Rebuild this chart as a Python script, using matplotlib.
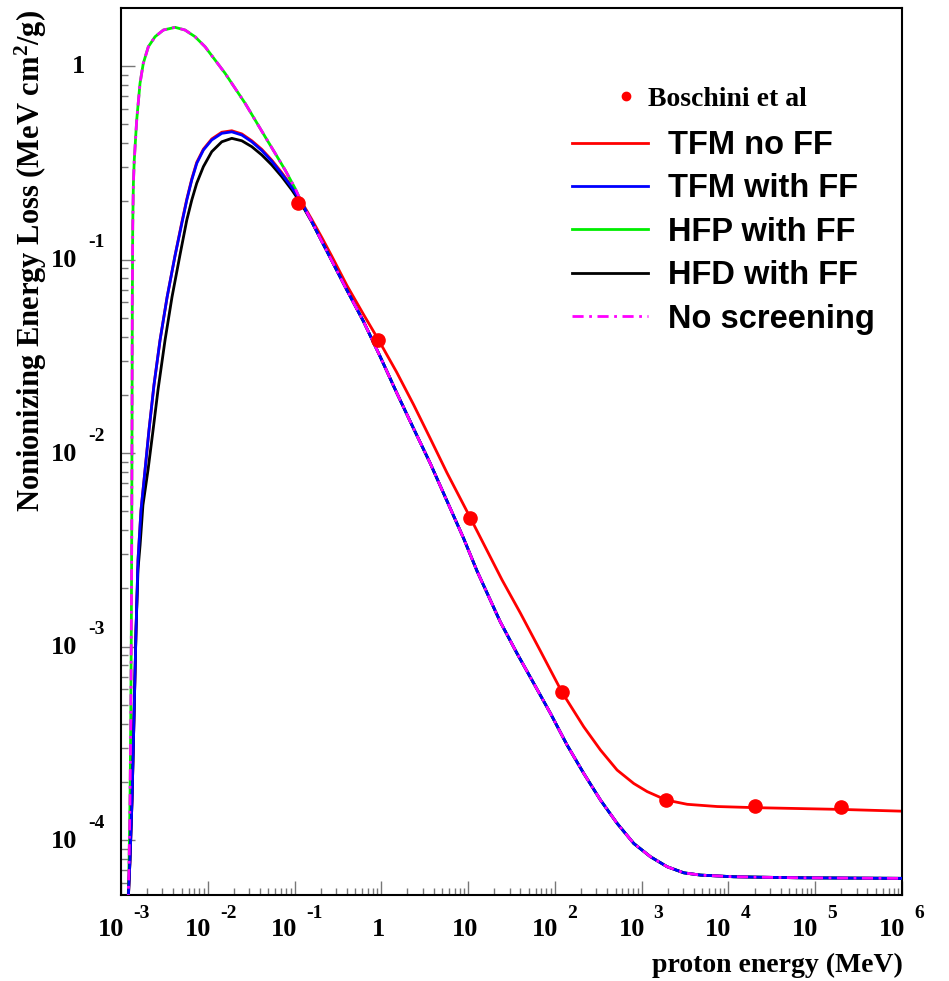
import matplotlib
matplotlib.use("Agg")
import numpy as np
import matplotlib.pyplot as plt
from matplotlib.lines import Line2D
from matplotlib.ticker import LogLocator, NullFormatter
from matplotlib.font_manager import FontProperties

# Boschini et al reference points
bos_E = [0.11, 0.92, 10.5, 122, 1930, 2.05e4, 2.0e5]
bos_loss = [0.196, 0.0384, 4.6e-3, 5.8e-4, 1.61e-4, 1.50e-4, 1.49e-4]

# TFM no FF (red)
tfm_E = [1.205e-3, 1.27e-3, 1.34e-3, 1.41e-3, 1.49e-3, 1.57e-3, 1.70e-3, 1.84e-3,
         2.10e-3, 2.40e-3, 2.82e-3, 3.40e-3, 4.20e-3, 5.01e-3, 5.73e-3, 6.54e-3,
         7.46e-3, 8.90e-3, 0.01111, 0.0145, 0.01891, 0.02466, 0.03216, 0.04195,
         0.0547, 0.0713, 0.093, 0.1213, 0.1582, 0.2063, 0.269, 0.401, 0.624, 0.929,
         1.50, 2.35, 3.66, 5.71, 10.6, 24.6, 40, 68, 121, 215, 335, 521, 811, 1157,
         1917, 3350, 7430, 2.07e4, 1.96e5, 1e6]
tfm_loss = [4.6e-5, 7.9e-5, 1.61e-4, 4.17e-4, 1.22e-3, 2.8e-3, 5.07e-3, 7.2e-3,
            0.0131, 0.0225, 0.0384, 0.064, 0.105, 0.155, 0.205, 0.261,
            0.318, 0.372, 0.420, 0.455, 0.463, 0.446, 0.411, 0.371,
            0.326, 0.281, 0.239, 0.198, 0.161, 0.130, 0.104, 0.0735, 0.0520, 0.0384,
            0.0262, 0.0178, 0.0119, 7.9e-3, 4.63e-3, 2.21e-3, 1.49e-3, 9.5e-4, 5.8e-4,
            3.85e-4, 2.92e-4, 2.30e-4, 1.96e-4, 1.78e-4,
            1.61e-4, 1.53e-4, 1.49e-4, 1.47e-4, 1.44e-4, 1.41e-4]

# TFM with FF (blue)
tfmff_E = [1.205e-3, 1.27e-3, 1.34e-3, 1.41e-3, 1.49e-3, 1.57e-3, 1.70e-3, 1.84e-3,
           2.10e-3, 2.40e-3, 2.82e-3, 3.40e-3, 4.20e-3, 5.01e-3, 5.73e-3, 6.54e-3,
           7.46e-3, 8.90e-3, 0.01111, 0.0145, 0.01891, 0.02466, 0.03216, 0.04195,
           0.0547, 0.0713, 0.093, 0.1213, 0.1582, 0.2063, 0.269, 0.401, 0.624, 0.970,
           1.51, 2.35, 3.66, 5.71, 8.88, 12.7, 23.5, 36.6, 57.0, 88.8, 138, 215, 335,
           521, 811, 1262, 1966, 3060, 4765, 1.15e4, 6.78e4, 1e6]
tfmff_loss = [4.6e-5, 7.9e-5, 1.61e-4, 4.17e-4, 1.22e-3, 2.8e-3, 5.07e-3, 7.2e-3,
              0.0131, 0.0225, 0.0384, 0.064, 0.105, 0.153, 0.203, 0.258,
              0.314, 0.368, 0.415, 0.449, 0.457, 0.440, 0.406, 0.366,
              0.322, 0.277, 0.236, 0.196, 0.157, 0.124, 0.0985, 0.0695, 0.0478, 0.0315,
              0.0204, 0.0134, 8.85e-3, 5.65e-3, 3.62e-3, 2.45e-3, 1.34e-3, 9.22e-4,
              6.46e-4, 4.52e-4, 3.10e-4, 2.21e-4, 1.61e-4,
              1.22e-4, 9.6e-5, 8.2e-5, 7.28e-5, 6.77e-5, 6.59e-5, 6.46e-5, 6.38e-5, 6.34e-5]

# HFP with FF (green)
hfp_E = [1.205e-3, 1.24e-3, 1.27e-3, 1.295e-3, 1.315e-3, 1.33e-3, 1.34e-3, 1.35e-3,
         1.365e-3, 1.39e-3, 1.422e-3, 1.517e-3, 1.656e-3, 1.807e-3, 2.065e-3, 2.466e-3,
         3.077e-3, 4.20e-3, 5.47e-3, 7.14e-3, 9.31e-3, 0.01214, 0.01584, 0.02066,
         0.02694, 0.03513, 0.04582, 0.05976, 0.07793, 0.1016, 0.1213, 0.1582, 0.2063,
         0.269, 0.401, 0.624, 0.970, 1.51, 2.35, 3.66, 5.71, 8.88, 12.7, 23.5, 36.6,
         57.0, 88.8, 138, 215, 335, 521, 811, 1262, 1966, 3060, 4765, 1.15e4, 6.78e4, 1e6]
hfp_loss = [4.6e-5, 8e-5, 1.6e-4, 4e-4, 1.2e-3, 4e-3, 0.015, 0.06,
            0.15, 0.25, 0.327, 0.526, 0.814, 1.033, 1.258, 1.417,
            1.535, 1.585, 1.535, 1.417, 1.258, 1.074, 0.917, 0.767,
            0.642, 0.526, 0.431, 0.354, 0.290, 0.233, 0.196, 0.157, 0.124,
            0.0985, 0.0695, 0.0478, 0.0315, 0.0204, 0.0134, 8.85e-3, 5.65e-3, 3.62e-3,
            2.45e-3, 1.34e-3, 9.22e-4,
            6.46e-4, 4.52e-4, 3.10e-4, 2.21e-4, 1.61e-4, 1.22e-4, 9.6e-5, 8.2e-5, 7.28e-5,
            6.77e-5, 6.59e-5, 6.46e-5, 6.38e-5, 6.34e-5]

# HFD with FF (black)
hfd_E = [1.205e-3, 1.27e-3, 1.34e-3, 1.41e-3, 1.49e-3, 1.57e-3, 1.66e-3, 1.79e-3,
         2.05e-3, 2.34e-3, 2.67e-3, 3.22e-3, 3.87e-3, 4.79e-3, 5.73e-3, 6.54e-3,
         7.46e-3, 8.90e-3, 0.01111, 0.0145, 0.01891, 0.02466, 0.03216, 0.04195,
         0.0547, 0.0713, 0.093, 0.1213, 0.1582, 0.2063, 0.269, 0.401, 0.624, 0.970,
         1.51, 2.35, 3.66, 5.71, 8.88, 12.7, 23.5, 36.6, 57.0, 88.8, 138, 215, 335,
         521, 811, 1262, 1966, 3060, 4765, 1.15e4, 6.78e4, 1e6]
hfd_loss = [4.6e-5, 7.9e-5, 1.61e-4, 4.17e-4, 1.22e-3, 2.5e-3, 3.35e-3, 5.38e-3,
            8.2e-3, 0.0131, 0.0212, 0.0384, 0.064, 0.106, 0.160, 0.203,
            0.248, 0.302, 0.361, 0.406, 0.423, 0.411, 0.383, 0.347,
            0.308, 0.268, 0.229, 0.192, 0.156, 0.124, 0.0985, 0.0695, 0.0478, 0.0315,
            0.0204, 0.0134, 8.85e-3, 5.65e-3, 3.62e-3, 2.45e-3, 1.34e-3, 9.22e-4,
            6.46e-4, 4.52e-4, 3.10e-4, 2.21e-4, 1.61e-4,
            1.22e-4, 9.6e-5, 8.2e-5, 7.28e-5, 6.77e-5, 6.59e-5, 6.46e-5, 6.38e-5, 6.34e-5]

# No screening (magenta, dash-dot)
nos_E = [1.205e-3, 1.24e-3, 1.27e-3, 1.295e-3, 1.315e-3, 1.33e-3, 1.34e-3, 1.35e-3,
         1.365e-3, 1.39e-3, 1.422e-3, 1.517e-3, 1.656e-3, 1.807e-3, 2.065e-3, 2.466e-3,
         3.077e-3, 4.20e-3, 5.47e-3, 7.14e-3, 9.31e-3, 0.01214, 0.01584, 0.02066,
         0.02694, 0.03513, 0.04582, 0.05976, 0.07793, 0.1016, 0.1213, 0.1582, 0.2063,
         0.269, 0.401, 0.624, 0.970, 1.51, 2.35, 3.66, 5.71, 8.88, 12.7, 23.5, 36.6,
         57.0, 88.8, 138, 215, 335, 521, 811, 1262, 1966, 3060, 4765, 1.15e4, 6.78e4, 1e6]
nos_loss = [4.6e-5, 8e-5, 1.6e-4, 4e-4, 1.2e-3, 4e-3, 0.015, 0.06,
            0.15, 0.25, 0.327, 0.526, 0.814, 1.033, 1.258, 1.417,
            1.535, 1.585, 1.535, 1.417, 1.258, 1.074, 0.917, 0.767,
            0.642, 0.526, 0.431, 0.354, 0.290, 0.233, 0.196, 0.157, 0.124,
            0.0985, 0.0695, 0.0478, 0.0315, 0.0204, 0.0134, 8.85e-3, 5.65e-3, 3.62e-3,
            2.45e-3, 1.34e-3, 9.22e-4,
            6.46e-4, 4.52e-4, 3.10e-4, 2.21e-4, 1.61e-4, 1.22e-4, 9.6e-5, 8.2e-5, 7.28e-5,
            6.77e-5, 6.59e-5, 6.46e-5, 6.38e-5, 6.34e-5]

x_decades = list(range(-3, 7))
y_decades = list(range(-4, 1))

W, H = 949, 981
fig = plt.figure(figsize=(W / 100, H / 100), dpi=100)
ax = fig.add_axes([121 / W, 1 - 895 / H, (902 - 121) / W, (895 - 8) / H])

lw = 2.0
dashdot = (0, (4, 2, 1, 2))
ax.plot(tfm_E, tfm_loss, color="#ff0000", lw=lw, zorder=2)
ax.plot(hfp_E, hfp_loss, color="#00ee00", lw=lw, zorder=3)
ax.plot(hfd_E, hfd_loss, color="black", lw=lw, zorder=4)
ax.plot(tfmff_E, tfmff_loss, color="#0000ff", lw=lw, zorder=5)
ax.plot(nos_E, nos_loss, color="#ff00ff", lw=lw, ls=dashdot, zorder=6)
ax.plot(bos_E, bos_loss, "o", color="#ff0000", ms=9.5, zorder=7)

ax.set_xscale("log")
ax.set_yscale("log")
ax.set_xlim(1e-3, 1e6)
ax.set_ylim(5.2e-5, 1.995)

for axis in (ax.xaxis, ax.yaxis):
    axis.set_major_locator(LogLocator(base=10, numticks=100))
    axis.set_minor_locator(LogLocator(base=10, subs=np.arange(2, 10), numticks=100))
    axis.set_minor_formatter(NullFormatter())
ax.tick_params(which="both", direction="in", top=False, right=False,
               labelbottom=False, labelleft=False, color="#777777", width=1)
ax.tick_params(which="major", length=10)
ax.tick_params(which="minor", length=5)
for sp in ax.spines.values():
    sp.set_linewidth(1.5)

serif = dict(family="Liberation Serif", weight="bold")

# ROOT-style tick labels: "10" plus a raised exponent
for d in x_decades:
    e = 10.0 ** d
    if d in (0, 1):
        ax.annotate("1" if d == 0 else "10", xy=(e, 0), xycoords=("data", "axes fraction"),
                    xytext=(-3, -35), textcoords="offset pixels", ha="center",
                    va="center", fontsize=19, **serif)
    else:
        ax.annotate("10", xy=(e, 0), xycoords=("data", "axes fraction"),
                    xytext=(-10, -35), textcoords="offset pixels", ha="center",
                    va="center", fontsize=19, **serif)
        ax.annotate(str(d), xy=(e, 0), xycoords=("data", "axes fraction"),
                    xytext=(12, -18), textcoords="offset pixels", ha="left",
                    va="center", fontsize=14, **serif)

for d in y_decades:
    e = 10.0 ** d
    if d == 0:
        ax.annotate("1", xy=(0, e), xycoords=("axes fraction", "data"),
                    xytext=(-36, 0), textcoords="offset pixels", ha="right",
                    va="center", fontsize=19, **serif)
    else:
        ax.annotate("10", xy=(0, e), xycoords=("axes fraction", "data"),
                    xytext=(-44, -1), textcoords="offset pixels", ha="right",
                    va="center", fontsize=19, **serif)
        ax.annotate(str(d), xy=(0, e), xycoords=("axes fraction", "data"),
                    xytext=(-33, 17), textcoords="offset pixels", ha="left",
                    va="center", fontsize=14, **serif)

plt.rcParams["mathtext.default"] = "regular"
fig.text(31 / W, 1 - 10 / H, "Nonionizing Energy Loss (MeV cm$^{2}$/g)",
         rotation=90, ha="center", va="top", fontsize=22, **serif)
fig.text(903 / W, 1 - 965 / H, "proton energy (MeV)", ha="right", va="center",
         fontsize=20, **serif)

# legends
bos_handle = Line2D([], [], marker="o", color="#ff0000", ls="none", ms=6)
fig.legend([bos_handle], ["Boschini et al"], loc="center left",
           bbox_to_anchor=(615 / W, 1 - 99 / H), frameon=False,
           prop=FontProperties(family="Liberation Serif", weight="bold", size=20),
           handlelength=0.8, handletextpad=0.4, borderpad=0, borderaxespad=0)
handles = [Line2D([], [], color="#ff0000", lw=lw),
           Line2D([], [], color="#0000ff", lw=lw),
           Line2D([], [], color="#00ee00", lw=lw),
           Line2D([], [], color="black", lw=lw),
           Line2D([], [], color="#ff00ff", lw=lw, ls=dashdot)]
names = ["TFM no FF", "TFM with FF", "HFP with FF", "HFD with FF", "No screening"]
fig.legend(handles, names, loc="upper left",
           bbox_to_anchor=(572 / W, 1 - 130 / H), frameon=False,
           prop=FontProperties(family="Liberation Sans", weight="bold", size=23.5),
           handlelength=2.33, handletextpad=0.61, labelspacing=0.38,
           borderpad=0, borderaxespad=0)

fig.savefig("out.png", dpi=100)
